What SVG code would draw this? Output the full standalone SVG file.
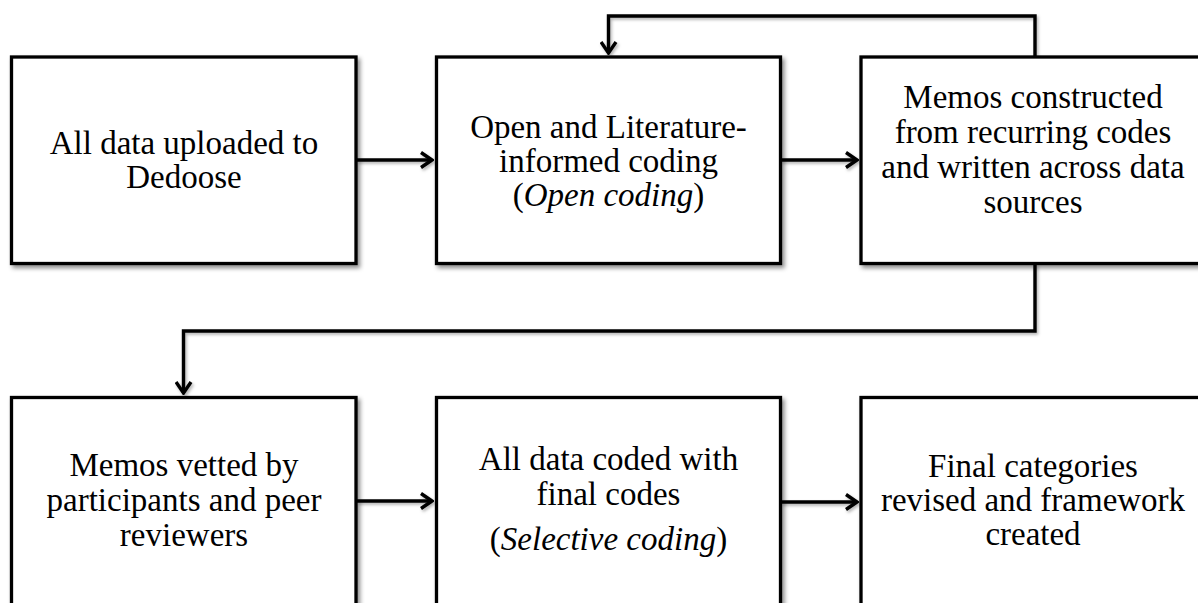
<svg xmlns="http://www.w3.org/2000/svg" width="1198" height="603" viewBox="0 0 1198 603">
<style>
.box{fill:#fff;stroke:#000;stroke-width:3.3;filter:url(#sh)}
.lbl{font-size:33px;fill:#000;text-anchor:middle}
.con{fill:none;stroke:#000;stroke-width:3.4;stroke-linejoin:miter;marker-end:url(#arr)}
.it{font-style:italic}
</style>
<defs>
<filter id="sh" x="-10%" y="-10%" width="130%" height="130%">
<feDropShadow dx="2.5" dy="3" stdDeviation="2" flood-color="#000" flood-opacity="0.45"/>
</filter>
<filter id="sh2" x="-10%" y="-10%" width="130%" height="130%">
<feDropShadow dx="1.5" dy="2" stdDeviation="1.5" flood-color="#000" flood-opacity="0.3"/>
</filter>
<marker id="arr" markerUnits="userSpaceOnUse" markerWidth="16" markerHeight="18" viewBox="0 0 16 18" refX="14" refY="9" orient="auto">
<path d="M3,1.5 L14,9 L3,16.5" fill="none" stroke="#000" stroke-width="3.4"/>
</marker>
</defs>
<g id="connectors" filter="url(#sh2)">
<path class="con" d="M357,160 L432,160"/>
<path class="con" d="M781,160 L857,160"/>
<path class="con" d="M1035,57 L1035,16 L608.5,16 L608.5,53"/>
<path class="con" d="M1035,264 L1035,331 L183.5,331 L183.5,393"/>
<path class="con" d="M357,501 L432,501"/>
<path class="con" d="M781,502 L857,502"/>
</g>
<g font-family="'Liberation Serif', 'DejaVu Serif', serif">
<g id="n1">
<rect class="box" x="11.5" y="57" width="344.5" height="206.5"/>
<text class="lbl" x="184" y="154">All data uploaded to</text>
<text class="lbl" x="184" y="188">Dedoose</text>
</g>
<g id="n2">
<rect class="box" x="436.5" y="57" width="344" height="206.5"/>
<text class="lbl" x="608.5" y="138">Open and Literature-</text>
<text class="lbl" x="608.5" y="172">informed coding</text>
<text class="lbl" x="608.5" y="206">(<tspan class="it">Open coding</tspan>)</text>
</g>
<g id="n3">
<rect class="box" x="861" y="57" width="344" height="206.5"/>
<text class="lbl" x="1033" y="108">Memos constructed</text>
<text class="lbl" x="1033" y="143">from recurring codes</text>
<text class="lbl" x="1033" y="178">and written across data</text>
<text class="lbl" x="1033" y="213">sources</text>
</g>
<g id="n4">
<rect class="box" x="11.5" y="397.5" width="344.5" height="230"/>
<text class="lbl" x="184" y="476">Memos vetted by</text>
<text class="lbl" x="184" y="511">participants and peer</text>
<text class="lbl" x="184" y="546">reviewers</text>
</g>
<g id="n5">
<rect class="box" x="436.5" y="397.5" width="344" height="230"/>
<text class="lbl" x="608.5" y="470">All data coded with</text>
<text class="lbl" x="608.5" y="505">final codes</text>
<text class="lbl" x="608.5" y="550">(<tspan class="it">Selective coding</tspan>)</text>
</g>
<g id="n6">
<rect class="box" x="861" y="397.5" width="344" height="230"/>
<text class="lbl" x="1033" y="477">Final categories</text>
<text class="lbl" x="1033" y="511">revised and framework</text>
<text class="lbl" x="1033" y="545">created</text>
</g>
</g>
</svg>
